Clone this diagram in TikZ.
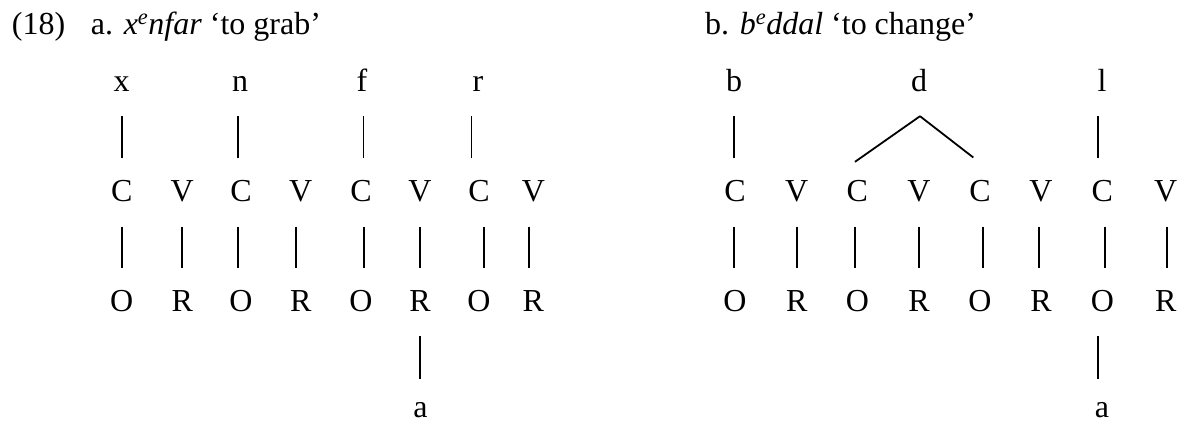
\documentclass[tikz,border=0pt]{standalone}
\usepackage{fontspec}
\setmainfont{Liberation Serif}
\begin{document}
\begin{tikzpicture}[x=1pt,y=-1pt,
  every node/.style={font=\fontsize{32}{38}\selectfont},
  ph/.style={inner sep=0pt, text height=22pt, text depth=0pt, anchor=base},
  ttl/.style={inner sep=0pt, anchor=base west},
  stem/.style={line width=1.8pt, shorten <=25pt, shorten >=21pt},
  fork/.style={line width=1.8pt}]
\useasboundingbox (0,0) rectangle (1185,424);
% titles
\node[ttl] (num) at (11.7,34) {(18)};
\node[ttl] (ta) at (90.7,34) {a. \textit{x\textsuperscript{e}nfar} ‘to grab’};
\node[ttl] (tb) at (705,34) {b. \textit{b\textsuperscript{e}ddal} ‘to change’};
% ---- left diagram ----
\node[ph] (sx) at (121.7,91) {x};
\node[ph] (sn) at (240,91) {n};
\node[ph] (sf) at (362,91) {f};
\node[ph] (sr) at (478,91) {r};
\foreach \n/\l/\x in {ac1/C/121.7, av1/V/182.3, ac2/C/241, av2/V/300.7, ac3/C/361, av3/V/420, ac4/C/479, av4/V/533.3}
  \node[ph] (\n) at (\x,201.5) {\l};
\foreach \n/\l/\x in {ao1/O/121.7, ar1/R/182.3, ao2/O/241, ar2/R/300.7, ao3/O/361, ar3/R/420, ao4/O/479, ar4/R/533.3}
  \node[ph] (\n) at (\x,311) {\l};
\node[ph, text height=18pt] (aa) at (420.5,417.5) {a};
\draw[stem] ([xshift=0.6pt]sx.south) -- ([xshift=0.6pt]ac1.north);
\draw[stem] ([xshift=-1.7pt]sn.south) -- ([xshift=-2.7pt]ac2.north);
\draw[stem] ([xshift=1.5pt]sf.south) -- ([xshift=2.5pt]ac3.north);
\draw[stem] ([xshift=-6.5pt]sr.south) -- ([xshift=-7.5pt]ac4.north);
\draw[stem] (ac1.south) -- (ao1.north);
\draw[stem] (av1.south) -- (ar1.north);
\draw[stem] ([xshift=-2.7pt]ac2.south) -- ([xshift=-2.7pt]ao2.north);
\draw[stem] ([xshift=-5pt]av2.south) -- ([xshift=-5pt]ar2.north);
\draw[stem] ([xshift=3pt]ac3.south) -- ([xshift=3pt]ao3.north);
\draw[stem] (av3.south) -- (ar3.north);
\draw[stem] ([xshift=5pt]ac4.south) -- ([xshift=5pt]ao4.north);
\draw[stem] ([xshift=-4.3pt]av4.south) -- ([xshift=-4.3pt]ar4.north);
\draw[stem, shorten >=20pt] (ar3.south) -- ([xshift=-0.5pt]aa.north);
% ---- right diagram ----
\node[ph] (sb) at (734,91) {b};
\node[ph] (sd) at (919,91) {d};
\node[ph] (sl) at (1102,91) {l};
\foreach \n/\l/\x in {bc1/C/735, bv1/V/796.7, bc2/C/857.3, bv2/V/919, bc3/C/980, bv3/V/1041, bc4/C/1102.3, bv4/V/1165.7}
  \node[ph] (\n) at (\x,201.5) {\l};
\foreach \n/\l/\x in {bo1/O/735, br1/R/796.7, bo2/O/857.3, br2/R/919, bo3/O/980, br3/R/1041, bo4/O/1102.3, br4/R/1165.7}
  \node[ph] (\n) at (\x,311) {\l};
\node[ph, text height=18pt] (ba) at (1102,417.5) {a};
\draw[stem] ([xshift=0.3pt]sb.south) -- ([xshift=-0.7pt]bc1.north);
\draw[stem] ([xshift=-3.7pt]sl.south) -- ([xshift=-4pt]bc4.north);
\draw[fork] ([xshift=1pt,yshift=-25pt]sd.south) -- ([xshift=-2.3pt,yshift=17.5pt]bc2.north);
\draw[fork] ([xshift=1pt,yshift=-25pt]sd.south) -- ([xshift=-6.7pt,yshift=21.8pt]bc3.north);
\draw[stem] ([xshift=-0.7pt]bc1.south) -- ([xshift=-0.7pt]bo1.north);
\draw[stem] (bv1.south) -- (br1.north);
\draw[stem] ([xshift=-2.3pt]bc2.south) -- ([xshift=-2.3pt]bo2.north);
\draw[stem] ([xshift=0.3pt]bv2.south) -- ([xshift=0.3pt]br2.north);
\draw[stem] ([xshift=2.7pt]bc3.south) -- ([xshift=2.7pt]bo3.north);
\draw[stem] ([xshift=-2pt]bv3.south) -- ([xshift=-2pt]br3.north);
\draw[stem] ([xshift=2.7pt]bc4.south) -- ([xshift=2.7pt]bo4.north);
\draw[stem] ([xshift=1pt]bv4.south) -- ([xshift=1pt]br4.north);
\draw[stem, shorten >=20pt] ([xshift=-4pt]bo4.south) -- ([xshift=-3.7pt]ba.north);
\end{tikzpicture}
\end{document}
